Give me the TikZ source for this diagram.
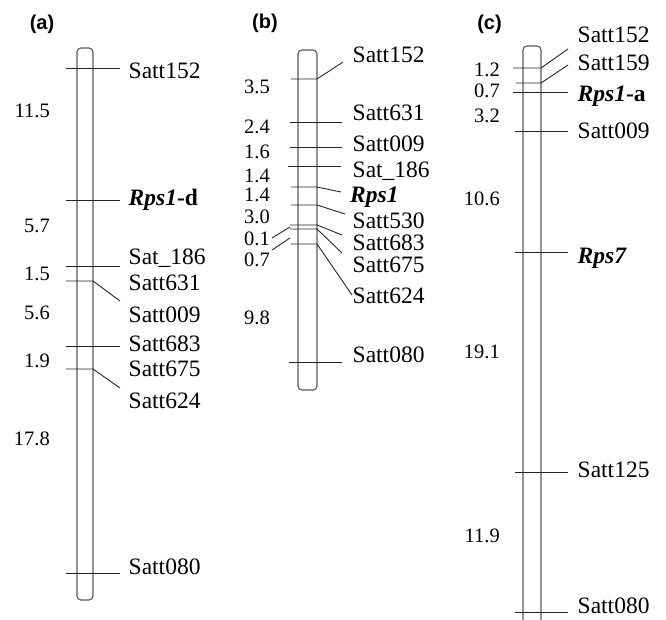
\documentclass[tikz,border=0pt]{standalone}
\usepackage{fontspec}
\setmainfont{Liberation Serif}
\newfontfamily\panelfont{Liberation Sans}
\begin{document}
\begin{tikzpicture}[x=1pt,y=-1pt,
  chrom/.style={draw=black!65,line width=1.1pt,rounded corners=4pt},
  tick/.style={draw=black!85,line width=0.9pt},
  lab/.style={anchor=base west,inner sep=0pt,font=\fontsize{23.5}{28}\selectfont},
  num/.style={anchor=base east,inner sep=0pt,font=\fontsize{20.5}{24}\selectfont},
  panel/.style={anchor=base,inner sep=0pt,font=\panelfont\bfseries\fontsize{20}{24}\selectfont}]
\useasboundingbox (0,0) rectangle (666,619);

% ---------------- panel (a)
\node[panel] (pa) at (42,29) {(a)};
\draw[chrom] (77,48) rectangle (93,600);
\draw[tick] (66,68) -- (120,68);
\draw[tick] (66,200) -- (120,200);
\draw[tick] (66,266) -- (120,266);
\draw[tick] (66,281) -- (93,281) -- (120,301);
\draw[tick] (66,346) -- (120,346);
\draw[tick] (66,369) -- (93,369) -- (120,388);
\draw[tick] (66,573) -- (120,573);
\node[lab] (a1) at (128.5,78) {Satt152};
\node[lab] (a2) at (128.5,205.5) {\textbf{\textit{Rps1}-d}};
\node[lab] (a3) at (128.5,264) {Sat\_186};
\node[lab] (a4) at (128.5,290) {Satt631};
\node[lab] (a5) at (128.5,322) {Satt009};
\node[lab] (a6) at (128.5,351) {Satt683};
\node[lab] (a7) at (128.5,376) {Satt675};
\node[lab] (a8) at (128.5,408) {Satt624};
\node[lab] (a9) at (128.5,574) {Satt080};
\node[num] (an1) at (50,117) {11.5};
\node[num] (an2) at (50,232) {5.7};
\node[num] (an3) at (50,280) {1.5};
\node[num] (an4) at (50,319) {5.6};
\node[num] (an5) at (50,367) {1.9};
\node[num] (an6) at (50,445) {17.8};

% ---------------- panel (b)
\node[panel] (pb) at (265,28) {(b)};
\draw[chrom] (298,50) rectangle (317,390);
\draw[tick] (291,79) -- (317,79) -- (343,62);
\draw[tick] (290,122) -- (342,122);
\draw[tick] (290,147) -- (342,147);
\draw[tick] (288,166) -- (341,166);
\draw[tick] (291,187) -- (317,187) -- (341,192);
\draw[tick] (291,205) -- (317,205) -- (345,214);
\draw[tick] (290,225) -- (317,225) -- (342,235);
\draw[tick] (290,229) -- (317,229) -- (342,253);
\draw[tick] (291,244) -- (317,244) -- (352,295);
\draw[tick] (289,362) -- (342,362);
\draw[tick] (272,238) -- (290,227);
\draw[tick] (272,250) -- (290,238);
\node[lab] (b1) at (352.5,62) {Satt152};
\node[lab] (b2) at (352.5,120) {Satt631};
\node[lab] (b3) at (352.5,151) {Satt009};
\node[lab] (b4) at (352.5,177) {Sat\_186};
\node[lab] (b5) at (350,202) {\textbf{\textit{Rps1}}};
\node[lab] (b6) at (352.5,228) {Satt530};
\node[lab] (b7) at (352.5,250) {Satt683};
\node[lab] (b8) at (352.5,272) {Satt675};
\node[lab] (b9) at (352.5,303) {Satt624};
\node[lab] (b10) at (352.5,362) {Satt080};
\node[num] (bn1) at (270,93) {3.5};
\node[num] (bn2) at (270,133) {2.4};
\node[num] (bn3) at (270,158) {1.6};
\node[num] (bn4) at (270,182) {1.4};
\node[num] (bn5) at (270,201) {1.4};
\node[num] (bn6) at (270,223) {3.0};
\node[num] (bn7) at (270,245) {0.1};
\node[num] (bn8) at (270,266) {0.7};
\node[num] (bn9) at (270,324) {9.8};

% ---------------- panel (c)
\node[panel] (pc) at (489.5,29) {(c)};
\draw[chrom] (523,630) -- (523,46) -- (541,46) -- (541,630);
\draw[tick] (513,68) -- (541,68) -- (568,49);
\draw[tick] (516,83) -- (541,83) -- (568,65);
\draw[tick] (513,92) -- (568,92);
\draw[tick] (515,131) -- (568,131);
\draw[tick] (515,252) -- (568,252);
\draw[tick] (515,472) -- (568,472);
\draw[tick] (515,612) -- (568,612);
\node[lab] (c1) at (577.5,42) {Satt152};
\node[lab] (c2) at (577.5,70) {Satt159};
\node[lab] (c3) at (577.5,101) {\textbf{\textit{Rps1}-a}};
\node[lab] (c4) at (577.5,138) {Satt009};
\node[lab] (c5) at (577.5,263) {\textbf{\textit{Rps7}}};
\node[lab] (c6) at (577.5,477) {Satt125};
\node[lab] (c7) at (577.5,613) {Satt080};
\node[num] (cn1) at (500,76) {1.2};
\node[num] (cn2) at (500,97) {0.7};
\node[num] (cn3) at (500,122) {3.2};
\node[num] (cn4) at (500,205) {10.6};
\node[num] (cn5) at (500,358) {19.1};
\node[num] (cn6) at (500,542) {11.9};
\end{tikzpicture}
\end{document}
